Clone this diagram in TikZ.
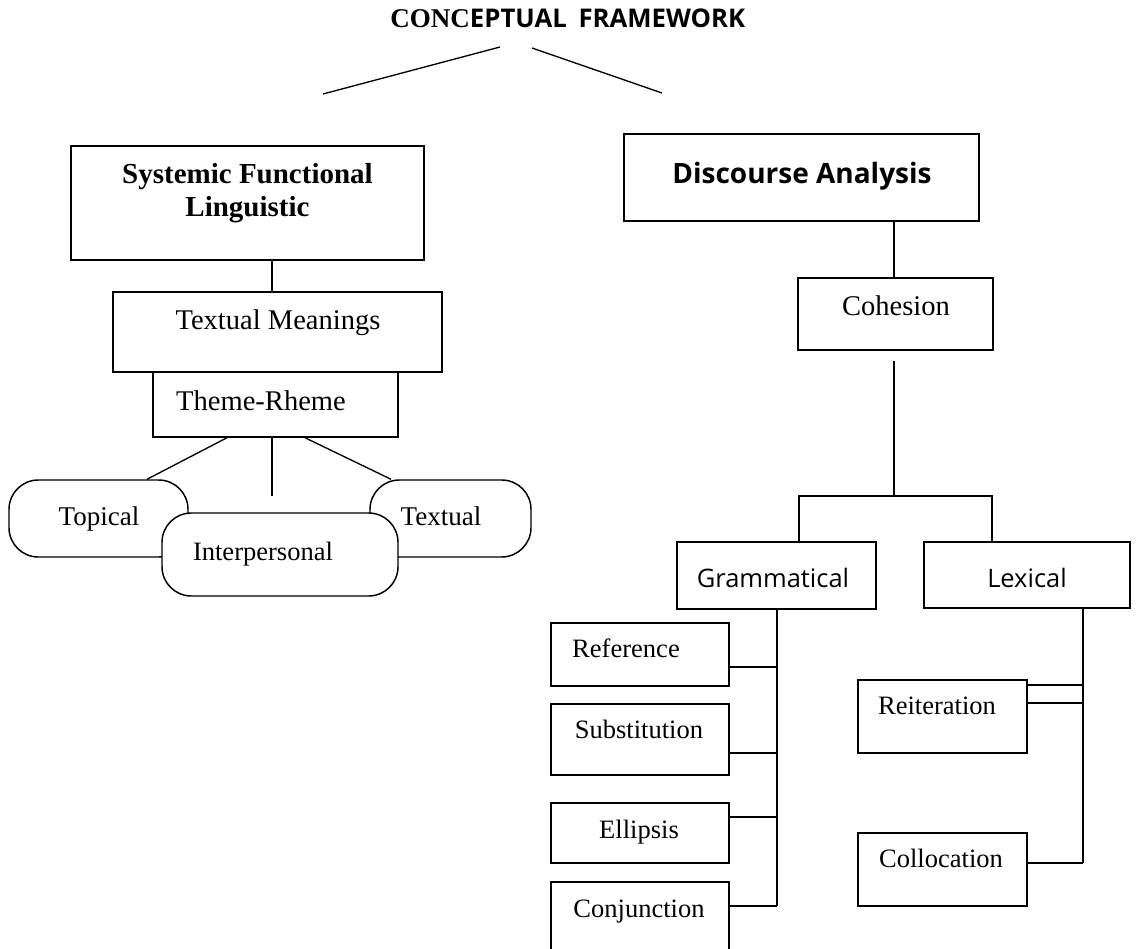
\documentclass[tikz,border=0pt]{standalone}
\usepackage{fontspec}
\setmainfont{Liberation Serif}
\setsansfont{Open Sans}
\usetikzlibrary{fit}
\begin{document}
\begin{tikzpicture}[x=0.75pt,y=-0.75pt,
  box/.style={draw, line width=1.1pt, inner sep=0pt, fill=white},
  pill/.style={draw, line width=1.1pt, inner sep=0pt, fill=white, rounded corners=22pt},
  conn/.style={line width=1pt},
  lbl/.style={anchor=base, inner sep=0pt},
  serifA/.style={lbl, font=\fontsize{21.4}{25}\selectfont},
  serifB/.style={lbl, font=\fontsize{20.3}{24}\selectfont},
  serifC/.style={lbl, font=\fontsize{19.9}{24}\selectfont},
  sansA/.style={lbl, font=\sffamily\fontsize{19.1}{23}\selectfont},
]
\useasboundingbox (0,0) rectangle (1136,949);
\clip (0,0) rectangle (1136,949);

% title
\node[inner sep=0pt, anchor=base west] (title) at (390,28) {{\fontsize{20.3}{24}\selectfont\bfseries CONC}{\sffamily\fontsize{19.3}{24}\selectfont\bfseries EPTUAL\hspace{0.45em}FRAMEWORK}};
\coordinate (tl1) at (500,47);
\coordinate (tl2) at (323,94);
\coordinate (tr1) at (532,48);
\coordinate (tr2) at (662,93);
\draw[conn] (tl1) -- (tl2);
\draw[conn] (tr1) -- (tr2);

% left branch
\node[box, fit={(71,146) (424,260)}] (sfl) {};
\node[lbl, font=\fontsize{21.75}{25}\selectfont\bfseries] (sfltxt) at (247.5,183) {Systemic Functional};
\node[lbl, font=\fontsize{21.75}{25}\selectfont\bfseries] (sfltxt2) at (247.5,216) {Linguistic};

\node[box, fit={(113,292) (442,372)}] (tm) {};
\node[serifA] (tmtxt) at (278,329) {Textual Meanings};
\node[box, fit={(153,372) (398,437)}] (thr) {};
\node[serifA] (thrtxt) at (261,410) {Theme-Rheme};

\coordinate (xs) at (272,0);
\draw[conn] (sfl.south -| xs) -- (tm.north -| xs);

\node[pill, fit={(9,480) (188,557)}] (top) {};
\node[serifB] (toptxt) at (99,525) {Topical};
\node[pill, fit={(370,480) (531,557)}] (txl) {};
\node[serifB] (txltxt) at (441,525) {Textual};

\coordinate (xa) at (227,0);
\coordinate (xb) at (147,0);
\coordinate (xc) at (305,0);
\coordinate (xd) at (391,0);
\coordinate (mid) at (272,496);
\draw[conn] (thr.south -| xa) -- (top.north -| xb);
\draw[conn] (thr.south -| xc) -- (txl.north -| xd);
\draw[conn] (thr.south -| mid) -- (mid);

\node[pill, fit={(162,513) (398,596)}] (int) {};
\node[serifC] (inttxt) at (263,560) {Interpersonal};

% right branch
\node[box, fit={(624,134) (979,221)}] (da) {};
\node[lbl, font=\sffamily\fontsize{21}{25}\selectfont\bfseries] (datxt) at (802,183) {Discourse Analysis};
\node[box, fit={(798,278) (993,350)}] (coh) {};
\node[serifA] (cohtxt) at (896,315) {Cohesion};
\coordinate (xda) at (894,0);
\draw[conn] (da.south -| xda) -- (coh.north -| xda);

\coordinate (cs) at (894,361);
\coordinate (cj) at (894,496);
\coordinate (gl) at (799,496);
\coordinate (lr) at (992,496);
\draw[conn] (cs) -- (cj);

\node[box, fit={(677,542) (876,609)}] (gram) {};
\node[sansA] (gramtxt) at (773,587) {Grammatical};
\node[box, fit={(924,542) (1130,608)}] (lex) {};
\node[sansA] (lextxt) at (1027,587) {Lexical};
\draw[conn] (gram.north -| gl) -- (gl) -- (lr) -- (lex.north -| lr);

% grammatical children
\node[box, fit={(551,623) (729,686)}] (ref) {};
\node[serifC] (reftxt) at (626,657) {Reference};
\node[box, fit={(551,704) (729,775)}] (sub) {};
\node[serifC] (subtxt) at (639,738) {Substitution};
\node[box, fit={(551,803) (729,863)}] (ell) {};
\node[serifC] (elltxt) at (639,838) {Ellipsis};
\node[box, fit={(551,882) (729,962)}] (conj) {};
\node[serifC] (conjtxt) at (639,917) {Conjunction};

\coordinate (gb) at (777,906);
\draw[conn] (gram.south -| gb) -- (gb);
\coordinate (g1) at (777,667);
\coordinate (g2) at (777,753);
\coordinate (g3) at (777,817);
\draw[conn] (ref.east |- g1) -- (g1);
\draw[conn] (sub.east |- g2) -- (g2);
\draw[conn] (ell.east |- g3) -- (g3);
\draw[conn] (conj.east |- gb) -- (gb);

% lexical children
\node[box, fit={(858,680) (1027,753)}] (rei) {};
\node[serifC] (reitxt) at (937,714) {Reiteration};
\node[box, fit={(858,833) (1027,906)}] (col) {};
\node[serifC] (coltxt) at (941,867) {Collocation};

\coordinate (lb) at (1083,863);
\coordinate (l1) at (1083,685);
\coordinate (l2) at (1083,703);
\draw[conn] (lex.south -| lb) -- (lb);
\draw[conn] (rei.east |- l1) -- (l1);
\draw[conn] (rei.east |- l2) -- (l2);
\draw[conn] (col.east |- lb) -- (lb);
\end{tikzpicture}
\end{document}
